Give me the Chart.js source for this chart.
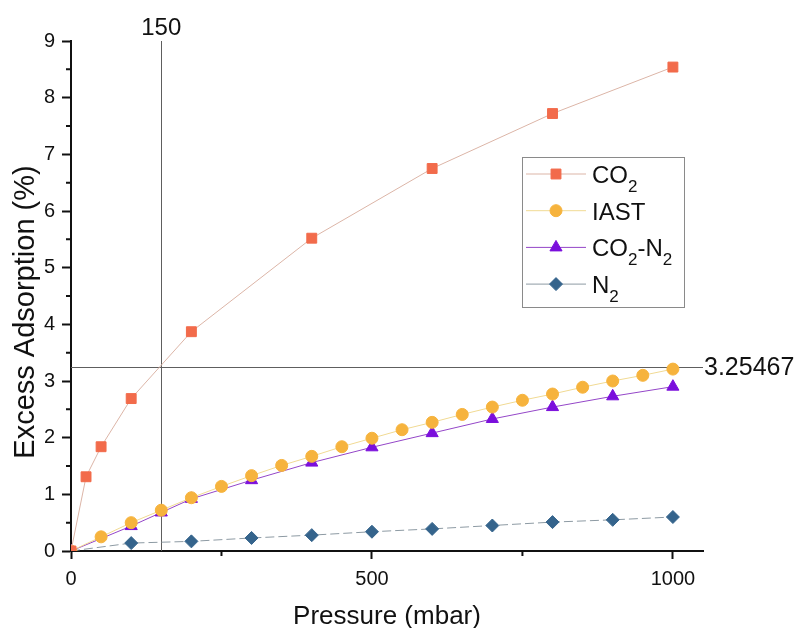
<!DOCTYPE html>
<html>
<head>
<meta charset="utf-8">
<title>Excess Adsorption vs Pressure</title>
<script src="https://cdn.jsdelivr.net/npm/chart.js@4.4.1/dist/chart.umd.min.js"></script>
<style>
  html, body { margin: 0; padding: 0; background: #ffffff; }
  canvas { display: block; }
</style>
</head>
<body>
<canvas id="chart" width="799" height="628"></canvas>
<script>
// ---- data -------------------------------------------------------------
const co2Pressure = [0, 25, 50, 100, 200, 400, 600, 800, 1000];
const co2Values   = [0, 1.31, 1.84, 2.69, 3.87, 5.52, 6.75, 7.72, 8.54];

const iastPressure = [0, 50, 100, 150, 200, 250, 300, 350, 400, 450, 500,
                      550, 600, 650, 700, 750, 800, 850, 900, 950, 1000];
const iastValues   = [0, 0.25, 0.50, 0.72, 0.94, 1.14, 1.33, 1.51, 1.67, 1.84, 1.99,
                      2.14, 2.27, 2.41, 2.54, 2.66, 2.77, 2.89, 3.00, 3.10, 3.21];

const mixPressure = [0, 100, 150, 200, 300, 400, 500, 600, 700, 800, 900, 1000];
const mixValues   = [0, 0.44, 0.68, 0.92, 1.25, 1.56, 1.83, 2.08, 2.33, 2.54, 2.73, 2.90];

const n2Pressure = [0, 100, 200, 300, 400, 500, 600, 700, 800, 900, 1000];
const n2Values   = [0, 0.14, 0.17, 0.23, 0.28, 0.34, 0.39, 0.45, 0.51, 0.55, 0.60];

// series names; "_x" marks a subscript character
const seriesNames = ['CO_2', 'IAST', 'CO_2-N_2', 'N_2'];

// axis ticks (empty label = minor tick)
const xTickValues = [0, 250, 500, 750, 1000];
const xTickLabels = ['0', '', '500', '', '1000'];
const yTickValues = [0, 0.5, 1, 1.5, 2, 2.5, 3, 3.5, 4, 4.5, 5, 5.5, 6, 6.5, 7, 7.5, 8, 8.5, 9];
const yTickLabels = ['0', '', '1', '', '2', '', '3', '', '4', '', '5', '', '6', '', '7', '', '8', '', '9'];

// reference cross-hair: 150 mbar and the CO2 uptake read there
const markerPressure = 150;
const markerAdsorption = 3.25467;

const xTitle = 'Pressure (mbar)';
const yTitle = 'Excess Adsorption (%)';

// ---- helpers ----------------------------------------------------------
const FONT = '"Liberation Sans", Arial, Helvetica, sans-serif';
const toPoints = (xs, ys) => xs.map((x, i) => ({ x: x, y: ys[i] }));

// draws text where "_c" renders c as a subscript; returns width
function drawRichText(ctx, text, x, y, size) {
  let cx = x;
  for (let i = 0; i < text.length; i++) {
    let ch = text[i];
    let sub = false;
    if (ch === '_' && i + 1 < text.length) { sub = true; ch = text[++i]; }
    ctx.font = (sub ? Math.round(size * 0.7) : size) + 'px ' + FONT;
    ctx.fillText(ch, cx, sub ? y + size * 0.36 : y);
    cx += ctx.measureText(ch).width;
  }
  return cx - x;
}

const styles = [
  { line: '#dcb5a7', fill: '#f26b4b', point: 'rect',     radius: 7,   dash: [] },
  { line: '#f1da93', fill: '#f6b33d', point: 'circle',   radius: 6,   dash: [] },
  { line: '#9446c8', fill: '#7b0fdc', point: 'triangle', radius: 7,   dash: [] },
  { line: '#8d9aa3', fill: '#35648c', point: 'rectRot',  radius: 6.5, dash: [9, 4] }
];
const seriesData = [
  toPoints(co2Pressure, co2Values),
  toPoints(iastPressure, iastValues),
  toPoints(mixPressure, mixValues),
  toPoints(n2Pressure, n2Values)
];

const datasets = seriesData.map((pts, i) => ({
  label: seriesNames[i].replace(/_/g, ''),
  data: pts,
  borderColor: styles[i].line,
  borderWidth: 1,
  borderDash: styles[i].dash,
  backgroundColor: styles[i].fill,
  pointBackgroundColor: styles[i].fill,
  pointBorderColor: styles[i].fill,
  pointBorderWidth: 1,
  pointStyle: styles[i].point,
  pointRadius: styles[i].radius,
  tension: 0,
  fill: false
}));

// ---- overlay: cross-hair, minor ticks, legend, axis titles -------------
const overlay = {
  id: 'overlay',
  beforeDatasetsDraw(chart) {
    const { ctx, chartArea: a, scales: { x, y } } = chart;
    const px = Math.round(x.getPixelForValue(markerPressure)) + 0.5;
    const py = Math.round(y.getPixelForValue(markerAdsorption)) + 0.5;
    ctx.save();
    ctx.strokeStyle = '#5e5e5e';
    ctx.lineWidth = 1;
    ctx.beginPath();
    ctx.moveTo(px, a.top); ctx.lineTo(px, a.bottom);
    ctx.moveTo(a.left, py); ctx.lineTo(a.right, py);
    ctx.stroke();
    ctx.restore();
  },
  afterDraw(chart) {
    const { ctx, chartArea: a, scales: { x, y } } = chart;
    ctx.save();

    // minor ticks
    ctx.strokeStyle = '#111';
    ctx.lineWidth = 2;
    ctx.beginPath();
    xTickValues.forEach((v, i) => {
      if (xTickLabels[i]) return;
      const p = x.getPixelForValue(v);
      ctx.moveTo(p, a.bottom); ctx.lineTo(p, a.bottom + 5);
    });
    yTickValues.forEach((v, i) => {
      if (yTickLabels[i]) return;
      const p = y.getPixelForValue(v);
      ctx.moveTo(a.left, p); ctx.lineTo(a.left - 5, p);
    });
    ctx.stroke();

    // cross-hair labels
    ctx.fillStyle = '#111';
    ctx.textBaseline = 'alphabetic';
    ctx.font = '24px ' + FONT;
    ctx.textAlign = 'center';
    ctx.fillText(String(markerPressure), x.getPixelForValue(markerPressure), 35);
    ctx.font = '25px ' + FONT;
    ctx.textAlign = 'left';
    ctx.fillText(String(markerAdsorption), a.right + 1, y.getPixelForValue(markerAdsorption) + 8);

    // legend
    const lx = 522, ly = 157, lw = 162, lh = 150;
    ctx.strokeStyle = '#8a8a8a';
    ctx.lineWidth = 1;
    ctx.strokeRect(lx + 0.5, ly + 0.5, lw, lh);
    datasets.forEach((ds, i) => {
      const rowY = 174 + i * 36.7;
      ctx.strokeStyle = ds.borderColor;
      ctx.lineWidth = 1;
      ctx.setLineDash([]);
      ctx.beginPath();
      ctx.moveTo(lx + 4, rowY); ctx.lineTo(lx + 64, rowY);
      ctx.stroke();
      ctx.fillStyle = ds.pointBackgroundColor;
      ctx.strokeStyle = ds.pointBorderColor;
      Chart.helpers.drawPoint(ctx, {
        pointStyle: ds.pointStyle, radius: ds.pointRadius, rotation: 0, borderWidth: 1
      }, lx + 34, rowY);
      ctx.fillStyle = '#111';
      ctx.textAlign = 'left';
      ctx.textBaseline = 'alphabetic';
      drawRichText(ctx, seriesNames[i], lx + 70, rowY + 9, 24);
    });

    // axis titles
    ctx.fillStyle = '#111';
    ctx.textAlign = 'center';
    ctx.textBaseline = 'alphabetic';
    ctx.font = '26px ' + FONT;
    ctx.fillText(xTitle, (a.left + a.right) / 2, 624);
    ctx.translate(34, 312);
    ctx.rotate(-Math.PI / 2);
    ctx.font = '29px ' + FONT;
    ctx.fillText(yTitle, 0, 0);

    ctx.restore();
  }
};

// ---- chart ------------------------------------------------------------
new Chart(document.getElementById('chart'), {
  type: 'line',
  data: { datasets: datasets },
  options: {
    responsive: false,
    animation: false,
    events: [],
    layout: { padding: { top: 41, right: 96, bottom: 0, left: 0 } },
    plugins: { legend: { display: false }, tooltip: { enabled: false } },
    scales: {
      x: {
        type: 'linear',
        min: 0,
        max: 1050,
        afterBuildTicks: s => { s.ticks = xTickValues.map(v => ({ value: v })); },
        afterFit: s => { s.height = 77; s.paddingLeft = 0; s.paddingRight = 0; },
        ticks: {
          autoSkip: false, maxRotation: 0, padding: 8,
          color: '#111',
          font: { family: FONT, size: 20 },
          callback: (v, i) => xTickLabels[i]
        },
        grid: {
          drawOnChartArea: false, drawTicks: true, tickLength: 8, tickWidth: 2,
          tickColor: c => (xTickLabels[c.index] ? '#111' : 'rgba(0,0,0,0)')
        },
        border: { display: true, color: '#111', width: 2 }
      },
      y: {
        type: 'linear',
        min: 0,
        max: 9,
        afterBuildTicks: s => { s.ticks = yTickValues.map(v => ({ value: v })); },
        afterFit: s => { s.width = 71; s.paddingTop = 0; s.paddingBottom = 0; },
        ticks: {
          autoSkip: false, padding: 7,
          color: '#111',
          font: { family: FONT, size: 20 },
          callback: (v, i) => yTickLabels[i]
        },
        grid: {
          drawOnChartArea: false, drawTicks: true, tickLength: 9, tickWidth: 2,
          tickColor: c => (yTickLabels[c.index] ? '#111' : 'rgba(0,0,0,0)')
        },
        border: { display: true, color: '#111', width: 2 }
      }
    }
  },
  plugins: [overlay]
});
</script>
</body>
</html>
